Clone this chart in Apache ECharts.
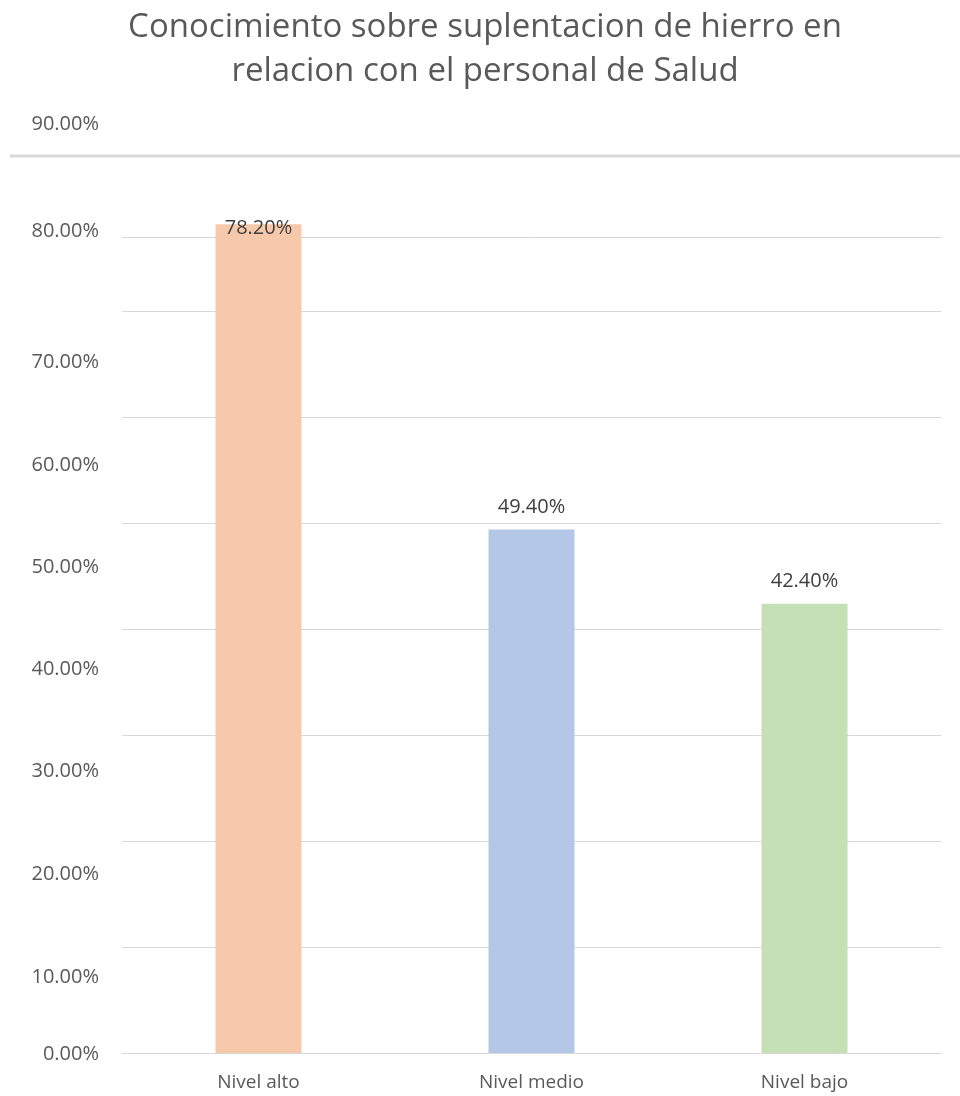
<!DOCTYPE html>
<html><head><meta charset="utf-8">
<script src="https://cdn.jsdelivr.net/npm/echarts@6/dist/echarts.min.js"></script>
<style>html,body{margin:0;padding:0;background:#fff}#c{width:960px;height:1096px}</style>
</head><body><div id="c"></div>
<script>
const titleText = 'Conocimiento sobre suplentacion de hierro en\nrelacion con el personal de Salud';
const categories = ['Nivel alto', 'Nivel medio', 'Nivel bajo'];
const values = [78.2, 49.4, 42.4];
const valueLabels = ['78.20%', '49.40%', '42.40%'];
const tickLabels = ['0.00%', '10.00%', '20.00%', '30.00%', '40.00%', '50.00%', '60.00%', '70.00%', '80.00%', '90.00%'];
const barColors = ['#F6C9AA', '#B4C7E7', '#C5E0B4'];

// layout (pixel positions of the tick labels as drawn in the reference)
const tickLabelY = [1054, 977, 874, 771, 669, 567, 465, 362, 231, 124];

const chart = echarts.init(document.getElementById('c'), null, {renderer: 'canvas'});
const FONT = 'Open Sans';
const graphics = tickLabels.map((t, i) => ({
  type: 'text', x: 99, y: tickLabelY[i],
  style: {text: t, fill: '#595959', font: '20px "' + FONT + '"', align: 'right', verticalAlign: 'middle'}
}));
graphics.push({
  type: 'line', shape: {x1: 10, y1: 156, x2: 960, y2: 156},
  style: {stroke: '#D9D9D9', lineWidth: 3}
});
chart.setOption({
  animation: false,
  title: {
    text: titleText, left: 480, top: 1, textAlign: 'center',
    textStyle: {fontFamily: FONT, fontSize: 33, fontWeight: 'normal', color: '#595959', lineHeight: 44}
  },
  grid: {left: 122, right: 19, top: 237, bottom: 43},
  xAxis: {
    type: 'category', data: categories,
    axisLine: {show: true, lineStyle: {color: '#D9D9D9'}}, axisTick: {show: false},
    axisLabel: {color: '#595959', fontFamily: FONT, fontSize: 19, margin: 20}
  },
  yAxis: {
    type: 'value', min: 0, max: 77, interval: 10,
    axisLabel: {show: false}, axisLine: {show: false}, axisTick: {show: false},
    splitLine: {lineStyle: {color: '#D9D9D9', width: 1}}
  },
  series: [{
    type: 'bar', barWidth: 86, clip: false,
    data: values.map((v, i) => ({
      value: v,
      itemStyle: {color: barColors[i]},
      label: i === 0 ? {offset: [0, 26]} : {}
    })),
    label: {
      show: true, position: 'top', distance: 12,
      formatter: p => valueLabels[p.dataIndex],
      color: '#404040', fontFamily: FONT, fontSize: 20
    }
  }],
  graphic: graphics
});
</script></body></html>
